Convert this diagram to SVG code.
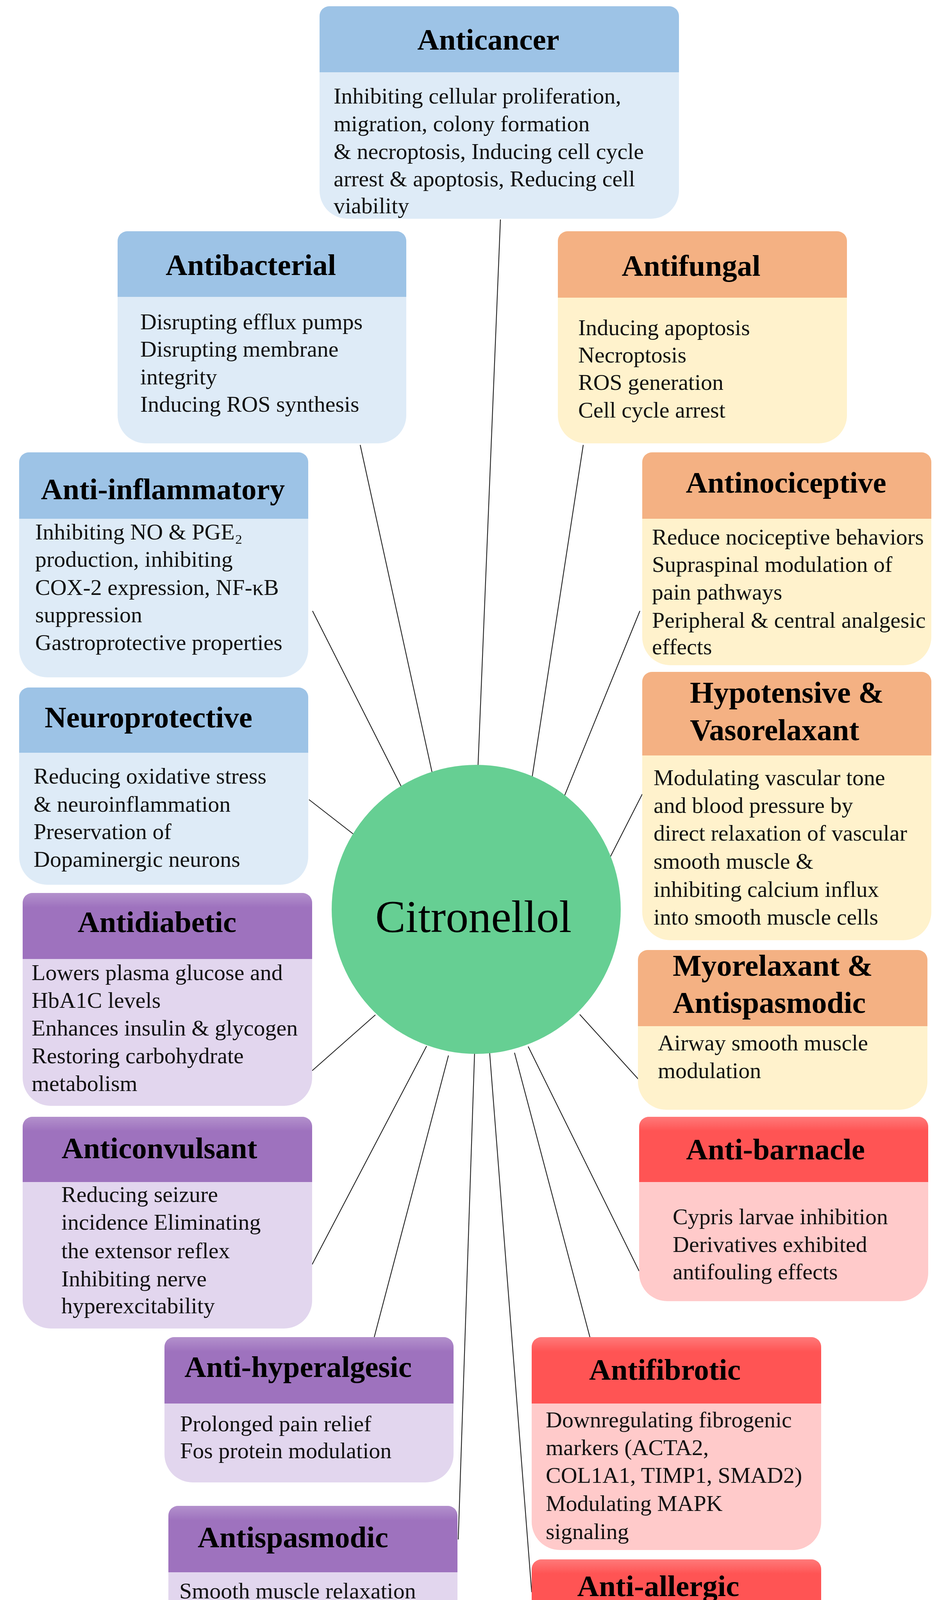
<svg xmlns="http://www.w3.org/2000/svg" width="2419" height="4619" viewBox="0 0 2419 4619">
<style>
.t{font-family:"Liberation Serif","Times New Roman",serif;font-weight:bold;font-size:77px;fill:#000;text-anchor:middle}
.tl{font-family:"Liberation Serif","Times New Roman",serif;font-weight:bold;font-size:78px;fill:#000}
.b{font-family:"Liberation Serif","Times New Roman",serif;font-size:58px;fill:#111}
.hb{fill:#9DC3E6}.bb{fill:#DEEBF7}
.ho{fill:#F4B183}.bo{fill:#FFF2CC}
.hp{fill:#9E72BE}.bp{fill:#E2D6EE}
.hr{fill:#FF5454}.br{fill:#FFCACA}
.bev{fill:url(#bevel)}
.conn line{stroke:#222;stroke-width:2.2}
</style>
<defs>
<linearGradient id="bevel" x1="0" y1="0" x2="0" y2="1">
<stop offset="0" stop-color="#fff" stop-opacity="0.22"/>
<stop offset="0.22" stop-color="#fff" stop-opacity="0"/>
</linearGradient>
</defs>
<rect width="2419" height="4619" fill="#fff"/>
<g id="connectors" class="conn">
<line x1="1281" y1="562" x2="1222" y2="2000"/>
<line x1="922" y1="1139" x2="1111" y2="2000"/>
<line x1="1493" y1="1139" x2="1359" y2="2010"/>
<line x1="800" y1="1564" x2="1043" y2="2045"/>
<line x1="791" y1="2047" x2="917" y2="2145"/>
<line x1="1638" y1="1564" x2="1441" y2="2047"/>
<line x1="1644" y1="2033" x2="1561" y2="2196"/>
<line x1="1484" y1="2597" x2="1637" y2="2766"/>
<line x1="1352" y1="2679" x2="1636" y2="3254"/>
<line x1="961" y1="2598" x2="799" y2="2741"/>
<line x1="1092" y1="2678" x2="799" y2="3237"/>
<line x1="1148" y1="2702" x2="958" y2="3423"/>
<line x1="1215" y1="2690" x2="1173" y2="3941"/>
<line x1="1253" y1="2690" x2="1361" y2="4076"/>
<line x1="1317" y1="2695" x2="1510" y2="3423"/>
</g>
<g id="citronellol">
<circle cx="1219" cy="2328" r="370" fill="#66CF93"/>
<text x="1212" y="2386" font-family="Liberation Serif, Times New Roman, serif" font-size="116" text-anchor="middle" fill="#000">Citronellol</text>
</g>
<g id="anticancer">
<path class="bb" d="M843,16 H1713 A25,25 0 0 1 1738,41 V488 A72,72 0 0 1 1666,560 H890 A72,72 0 0 1 818,488 V41 A25,25 0 0 1 843,16 Z"/>
<path class="hb" d="M818,185 V41 A25,25 0 0 1 843,16 H1713 A25,25 0 0 1 1738,41 V185 Z"/>
<text class="t" x="1250" y="127">Anticancer</text>
<text class="b" x="854" y="265">Inhibiting cellular  proliferation,</text>
<text class="b" x="854" y="336">migration, colony formation</text>
<text class="b" x="854" y="407">&amp; necroptosis, Inducing cell cycle</text>
<text class="b" x="854" y="477">arrest &amp; apoptosis, Reducing cell</text>
<text class="b" x="854" y="546">viability</text>
</g>
<g id="antibacterial">
<path class="bb" d="M326,592 H1015 A25,25 0 0 1 1040,617 V1063 A72,72 0 0 1 968,1135 H373 A72,72 0 0 1 301,1063 V617 A25,25 0 0 1 326,592 Z"/>
<path class="hb" d="M301,760 V617 A25,25 0 0 1 326,592 H1015 A25,25 0 0 1 1040,617 V760 Z"/>
<text class="t" x="642" y="704">Antibacterial</text>
<text class="b" x="359" y="843">Disrupting efflux pumps</text>
<text class="b" x="359" y="913">Disrupting membrane</text>
<text class="b" x="359" y="984">integrity</text>
<text class="b" x="359" y="1054">Inducing ROS synthesis</text>
</g>
<g id="antifungal">
<path class="bo" d="M1453,592 H2143 A25,25 0 0 1 2168,617 V1063 A72,72 0 0 1 2096,1135 H1500 A72,72 0 0 1 1428,1063 V617 A25,25 0 0 1 1453,592 Z"/>
<path class="ho" d="M1428,762 V617 A25,25 0 0 1 1453,592 H2143 A25,25 0 0 1 2168,617 V762 Z"/>
<text class="t" x="1769" y="706">Antifungal</text>
<text class="b" x="1480" y="858">Inducing apoptosis</text>
<text class="b" x="1480" y="928">Necroptosis</text>
<text class="b" x="1480" y="998">ROS generation</text>
<text class="b" x="1480" y="1069">Cell cycle arrest</text>
</g>
<g id="anti-inflammatory">
<path class="bb" d="M74,1158 H764 A25,25 0 0 1 789,1183 V1662 A72,72 0 0 1 717,1734 H121 A72,72 0 0 1 49,1662 V1183 A25,25 0 0 1 74,1158 Z"/>
<path class="hb" d="M49,1328 V1183 A25,25 0 0 1 74,1158 H764 A25,25 0 0 1 789,1183 V1328 Z"/>
<text class="t" x="417" y="1278">Anti-inflammatory</text>
<text class="b" x="90" y="1381">Inhibiting NO &amp; PGE₂</text>
<text class="b" x="90" y="1451">production, inhibiting</text>
<text class="b" x="90" y="1523">COX-2 expression, NF-κB</text>
<text class="b" x="90" y="1593">suppression</text>
<text class="b" x="90" y="1664">Gastroprotective properties</text>
</g>
<g id="neuroprotective">
<path class="bb" d="M74,1760 H764 A25,25 0 0 1 789,1785 V2193 A72,72 0 0 1 717,2265 H121 A72,72 0 0 1 49,2193 V1785 A25,25 0 0 1 74,1760 Z"/>
<path class="hb" d="M49,1927 V1785 A25,25 0 0 1 74,1760 H764 A25,25 0 0 1 789,1785 V1927 Z"/>
<text class="t" x="380" y="1862">Neuroprotective</text>
<text class="b" x="86" y="2006">Reducing oxidative stress</text>
<text class="b" x="86" y="2078">&amp; neuroinflammation</text>
<text class="b" x="86" y="2148">Preservation of</text>
<text class="b" x="86" y="2219">Dopaminergic neurons</text>
</g>
<g id="antinociceptive">
<path class="bo" d="M1669,1158 H2359 A25,25 0 0 1 2384,1183 V1631 A72,72 0 0 1 2312,1703 H1716 A72,72 0 0 1 1644,1631 V1183 A25,25 0 0 1 1669,1158 Z"/>
<path class="ho" d="M1644,1328 V1183 A25,25 0 0 1 1669,1158 H2359 A25,25 0 0 1 2384,1183 V1328 Z"/>
<text class="t" x="2012" y="1261">Antinociceptive</text>
<text class="b" x="1669" y="1394">Reduce nociceptive behaviors</text>
<text class="b" x="1669" y="1464">Supraspinal modulation of</text>
<text class="b" x="1669" y="1535">pain pathways</text>
<text class="b" x="1669" y="1607">Peripheral &amp; central analgesic</text>
<text class="b" x="1669" y="1675">effects</text>
</g>
<g id="hypotensive-vasorelaxant">
<path class="bo" d="M1669,1720 H2359 A25,25 0 0 1 2384,1745 V2335 A72,72 0 0 1 2312,2407 H1716 A72,72 0 0 1 1644,2335 V1745 A25,25 0 0 1 1669,1720 Z"/>
<path class="ho" d="M1644,1934 V1745 A25,25 0 0 1 1669,1720 H2359 A25,25 0 0 1 2384,1745 V1934 Z"/>
<text class="tl" x="1766" y="1799">Hypotensive &amp;</text>
<text class="tl" x="1766" y="1895">Vasorelaxant</text>
<text class="b" x="1673" y="2010">Modulating vascular tone</text>
<text class="b" x="1673" y="2081">and blood pressure by</text>
<text class="b" x="1673" y="2152">direct relaxation of vascular</text>
<text class="b" x="1673" y="2224">smooth muscle &amp;</text>
<text class="b" x="1673" y="2296">inhibiting calcium influx</text>
<text class="b" x="1673" y="2367">into smooth muscle cells</text>
</g>
<g id="myorelaxant-antispasmodic">
<path class="bo" d="M1658,2432 H2349 A25,25 0 0 1 2374,2457 V2769 A72,72 0 0 1 2302,2841 H1705 A72,72 0 0 1 1633,2769 V2457 A25,25 0 0 1 1658,2432 Z"/>
<path class="ho" d="M1633,2627 V2457 A25,25 0 0 1 1658,2432 H2349 A25,25 0 0 1 2374,2457 V2627 Z"/>
<text class="tl" x="1722" y="2498">Myorelaxant &amp;</text>
<text class="tl" x="1722" y="2593">Antispasmodic</text>
<text class="b" x="1684" y="2689">Airway smooth muscle</text>
<text class="b" x="1684" y="2760">modulation</text>
</g>
<g id="anti-barnacle">
<path class="br" d="M1661,2859 H2351 A25,25 0 0 1 2376,2884 V3259 A72,72 0 0 1 2304,3331 H1708 A72,72 0 0 1 1636,3259 V2884 A25,25 0 0 1 1661,2859 Z"/>
<path class="hr" d="M1636,3026 V2884 A25,25 0 0 1 1661,2859 H2351 A25,25 0 0 1 2376,2884 V3026 Z"/>
<path class="bev" d="M1636,3026 V2884 A25,25 0 0 1 1661,2859 H2351 A25,25 0 0 1 2376,2884 V3026 Z"/>
<text class="t" x="1985" y="2968">Anti-barnacle</text>
<text class="b" x="1722" y="3134">Cypris larvae inhibition</text>
<text class="b" x="1722" y="3205">Derivatives exhibited</text>
<text class="b" x="1722" y="3275">antifouling effects</text>
</g>
<g id="antidiabetic">
<path class="bp" d="M83,2286 H774 A25,25 0 0 1 799,2311 V2759 A72,72 0 0 1 727,2831 H130 A72,72 0 0 1 58,2759 V2311 A25,25 0 0 1 83,2286 Z"/>
<path class="hp" d="M58,2455 V2311 A25,25 0 0 1 83,2286 H774 A25,25 0 0 1 799,2311 V2455 Z"/>
<path class="bev" d="M58,2455 V2311 A25,25 0 0 1 83,2286 H774 A25,25 0 0 1 799,2311 V2455 Z"/>
<text class="t" x="402" y="2386">Antidiabetic</text>
<text class="b" x="81" y="2509">Lowers plasma glucose and</text>
<text class="b" x="81" y="2580">HbA1C levels</text>
<text class="b" x="81" y="2651">Enhances insulin &amp; glycogen</text>
<text class="b" x="81" y="2722">Restoring carbohydrate</text>
<text class="b" x="81" y="2793">metabolism</text>
</g>
<g id="anticonvulsant">
<path class="bp" d="M83,2859 H774 A25,25 0 0 1 799,2884 V3329 A72,72 0 0 1 727,3401 H130 A72,72 0 0 1 58,3329 V2884 A25,25 0 0 1 83,2859 Z"/>
<path class="hp" d="M58,3026 V2884 A25,25 0 0 1 83,2859 H774 A25,25 0 0 1 799,2884 V3026 Z"/>
<path class="bev" d="M58,3026 V2884 A25,25 0 0 1 83,2859 H774 A25,25 0 0 1 799,2884 V3026 Z"/>
<text class="t" x="408" y="2965">Anticonvulsant</text>
<text class="b" x="157" y="3077">Reducing seizure</text>
<text class="b" x="157" y="3148">incidence Eliminating</text>
<text class="b" x="157" y="3221">the extensor reflex</text>
<text class="b" x="157" y="3293">Inhibiting nerve</text>
<text class="b" x="157" y="3362">hyperexcitability</text>
</g>
<g id="anti-hyperalgesic">
<path class="bp" d="M446,3423 H1136 A25,25 0 0 1 1161,3448 V3723 A72,72 0 0 1 1089,3795 H493 A72,72 0 0 1 421,3723 V3448 A25,25 0 0 1 446,3423 Z"/>
<path class="hp" d="M421,3593 V3448 A25,25 0 0 1 446,3423 H1136 A25,25 0 0 1 1161,3448 V3593 Z"/>
<path class="bev" d="M421,3593 V3448 A25,25 0 0 1 446,3423 H1136 A25,25 0 0 1 1161,3448 V3593 Z"/>
<text class="t" x="763" y="3525">Anti-hyperalgesic</text>
<text class="b" x="461" y="3664">Prolonged pain relief</text>
<text class="b" x="461" y="3733">Fos protein modulation</text>
</g>
<g id="antispasmodic">
<path class="bp" d="M456,3855 H1146 A25,25 0 0 1 1171,3880 V4367 A72,72 0 0 1 1099,4439 H503 A72,72 0 0 1 431,4367 V3880 A25,25 0 0 1 456,3855 Z"/>
<path class="hp" d="M431,4025 V3880 A25,25 0 0 1 456,3855 H1146 A25,25 0 0 1 1171,3880 V4025 Z"/>
<path class="bev" d="M431,4025 V3880 A25,25 0 0 1 456,3855 H1146 A25,25 0 0 1 1171,3880 V4025 Z"/>
<text class="t" x="750" y="3961">Antispasmodic</text>
<text class="b" x="459" y="4092">Smooth muscle relaxation</text>
<text class="b" x="459" y="4161">gastrointestinal  spasm control</text>
<text class="b" x="459" y="4233">induced biphasic</text>
<text class="b" x="459" y="4304">cardiovascular</text>
<text class="b" x="459" y="4375">&amp; respiratory effects</text>
</g>
<g id="antifibrotic">
<path class="br" d="M1386,3423 H2077 A25,25 0 0 1 2102,3448 V3896 A72,72 0 0 1 2030,3968 H1433 A72,72 0 0 1 1361,3896 V3448 A25,25 0 0 1 1386,3423 Z"/>
<path class="hr" d="M1361,3593 V3448 A25,25 0 0 1 1386,3423 H2077 A25,25 0 0 1 2102,3448 V3593 Z"/>
<path class="bev" d="M1361,3593 V3448 A25,25 0 0 1 1386,3423 H2077 A25,25 0 0 1 2102,3448 V3593 Z"/>
<text class="t" x="1702" y="3532">Antifibrotic</text>
<text class="b" x="1397" y="3654">Downregulating fibrogenic</text>
<text class="b" x="1397" y="3725">markers (ACTA2,</text>
<text class="b" x="1397" y="3796">COL1A1, TIMP1, SMAD2)</text>
<text class="b" x="1397" y="3868">Modulating MAPK</text>
<text class="b" x="1397" y="3940">signaling</text>
</g>
<g id="anti-allergic">
<path class="br" d="M1386,3992 H2077 A25,25 0 0 1 2102,4017 V4501 A72,72 0 0 1 2030,4573 H1433 A72,72 0 0 1 1361,4501 V4017 A25,25 0 0 1 1386,3992 Z"/>
<path class="hr" d="M1361,4160 V4017 A25,25 0 0 1 1386,3992 H2077 A25,25 0 0 1 2102,4017 V4160 Z"/>
<path class="bev" d="M1361,4160 V4017 A25,25 0 0 1 1386,3992 H2077 A25,25 0 0 1 2102,4017 V4160 Z"/>
<text class="t" x="1685" y="4086">Anti-allergic</text>
<text class="b" x="1390" y="4233">Mast cell stabilization</text>
<text class="b" x="1390" y="4304">Suppresses IgE-induced</text>
<text class="b" x="1390" y="4375">TNF-α production</text>
<text class="b" x="1390" y="4447">Attenuates ERK</text>
<text class="b" x="1390" y="4518">phosphorylation</text>
</g>
</svg>
